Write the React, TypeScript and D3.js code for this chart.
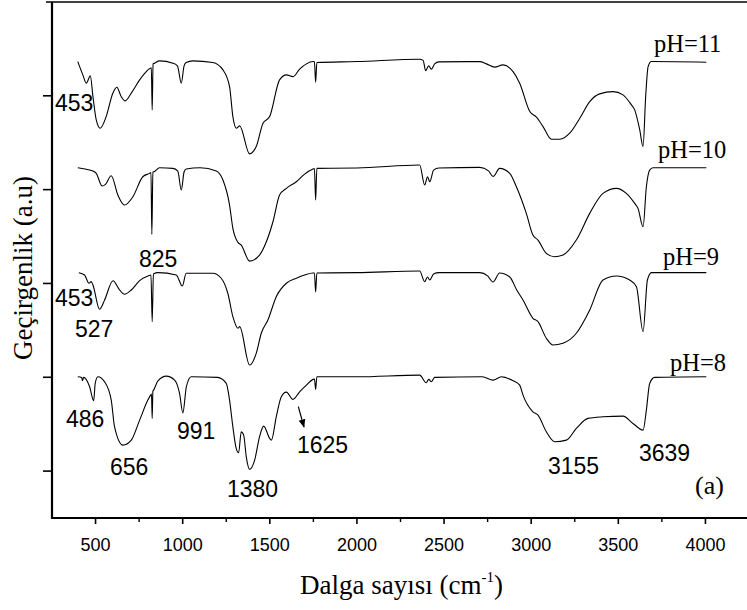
import React from 'react';
import * as d3 from 'd3';

const W = 747;
const H = 610;

const xMajorTicks = [500, 1000, 1500, 2000, 2500, 3000, 3500, 4000];
const xMinorTicks = [750, 1250, 1750, 2250, 2750, 3250, 3750];
const yTicks = [10, 30, 50, 70, 90];
const seriesNames = ['pH=11', 'pH=10', 'pH=9', 'pH=8'];
const offsets = [97.3, 74.6, 52.3, 30.1];

const pH11: [number, number][] = [[398,0],[427,-2.84],[447,-4.61],[470,-3.05],[485,-7.46],[504,-12.43],[527,-14.2],[561,-11.73],[599,-6.74],[622,-5.46],[647,-7.46],[670,-8.38],[705,-6.74],[753,-3.9],[791,-2.13],[814,-1.41],[820,-1.35],[825,-10.3],[830,-0.5],[839,-0.34],[867,0.15],[944,-0.34],[970,-0.9],[992,-4.61],[1008,-0.9],[1020,-0.21],[1058,0.15],[1173,-0.21],[1231,-1.77],[1269,-5.33],[1288,-11.73],[1308,-14.2],[1327,-13.71],[1384,-19.68],[1422,-18.12],[1461,-13.13],[1499,-11.73],[1556,-3.9],[1595,-2.84],[1633,-3.2],[1671,-1.62],[1710,-0.49],[1748,0],[1756,-0.06],[1763,-4.39],[1770,-0.21],[2000,0],[2360,0.51],[2380,0.26],[2394,-1.92],[2412,-0.92],[2427,-1.62],[2446,-0.49],[2470,-0.06],[2705,0],[2743,-0.49],[2791,-1.19],[2838,-0.7],[2896,-2.13],[2934,-4.61],[2992,-10.66],[3030,-11.85],[3068,-13.86],[3116,-16.55],[3164,-16.55],[3221,-15.27],[3279,-12.07],[3336,-8.53],[3393,-6.89],[3470,-6.4],[3527,-7.1],[3575,-9.23],[3594,-10.3],[3623,-14.56],[3642,-18.12],[3657,-7.46],[3671,-1.07],[3690,0],[4005,-0.13]];

const pH10: [number, number][] = [[398,0.06],[440,-0.21],[485,-0.64],[504,-1.13],[538,-3.84],[557,-3.48],[590,-1.64],[628,-5.76],[666,-7.89],[714,-6.12],[771,-1.85],[810,-1.13],[818,-0.96],[823,-14.14],[829,-0.85],[835,-0.79],[867,0.06],[944,-0.06],[972,-0.64],[992,-4.69],[1008,-0.85],[1020,-0.21],[1100,0.06],[1193,-0.64],[1231,-2.56],[1269,-7.89],[1288,-12.86],[1317,-15.84],[1336,-16.42],[1384,-19.83],[1441,-18.55],[1480,-15.71],[1518,-11.45],[1556,-5.76],[1595,-4.33],[1652,-2.92],[1700,-1.28],[1748,-0.21],[1756,-0.1],[1763,-6.82],[1770,-0.06],[2000,0],[2360,0.64],[2389,-3.62],[2405,-1.85],[2418,-2.92],[2440,-0.43],[2470,0],[2705,0.15],[2755,-0.6],[2781,-1.8],[2819,-0.06],[2877,-1.13],[2915,-3.99],[2972,-9.66],[3010,-14.29],[3039,-15.35],[3087,-18.19],[3135,-18.91],[3182,-18.55],[3259,-15.35],[3336,-9.66],[3412,-5.4],[3489,-4.33],[3546,-5.4],[3594,-7.53],[3613,-8.6],[3642,-12.52],[3661,-3.99],[3680,-0.43],[3699,0.06],[4005,0.06]];

const pH9: [number, number][] = [[404,0],[437,-0.49],[462,-2.26],[475,-1.92],[485,-2.62],[523,-7.8],[552,-5.82],[600,-1.71],[638,-3.69],[666,-4.61],[705,-3.69],[753,-1.71],[800,-0.7],[818,-0.49],[825,-10.45],[832,-0.28],[858,0],[963,-0.49],[998,-2.84],[1020,-0.13],[1173,-0.13],[1221,-1.19],[1259,-4.39],[1288,-9.38],[1317,-11.85],[1327,-11.51],[1384,-19.68],[1422,-17.19],[1451,-12.92],[1489,-10.09],[1537,-5.12],[1595,-2.26],[1652,-1.19],[1700,-0.49],[1748,-0.06],[1756,-0.06],[1763,-4.12],[1770,-0.06],[2000,0],[2360,0.36],[2389,-1.92],[2405,-0.92],[2418,-1.56],[2440,-0.28],[2470,0],[2705,0],[2750,-0.7],[2781,-1.98],[2819,-0.06],[2877,-0.92],[2917,-3.69],[2953,-5.82],[3010,-9.72],[3039,-10.45],[3087,-13.99],[3125,-15.42],[3182,-15.05],[3259,-12.92],[3336,-7.95],[3412,-1.56],[3489,-0.7],[3565,-1.56],[3604,-2.99],[3642,-12.58],[3667,-1.56],[3690,0],[4005,0]];

const pH8: [number, number][] = [[398,0],[420,-0.17],[425,-0.85],[431,-0.13],[466,-2.13],[489,-5.12],[498,-1.41],[513,0],[552,-1.07],[590,-4.97],[609,-10.66],[657,-14.56],[705,-13.5],[753,-9.23],[800,-4.97],[816,-3.9],[821,-3.69],[825,-8.87],[829,-3.05],[833,-2.84],[858,-0.85],[906,0.15],[954,-0.7],[982,-3.54],[1001,-7.68],[1021,-2.13],[1049,0],[1200,-0.13],[1250,-1.41],[1269,-4.97],[1288,-10.66],[1307,-15.27],[1321,-16.2],[1336,-11.73],[1350,-12.43],[1365,-17.06],[1384,-19.74],[1413,-17.76],[1441,-12.79],[1465,-10.51],[1499,-13.13],[1509,-13.5],[1537,-8.53],[1566,-4.26],[1595,-3.26],[1633,-4.82],[1671,-3.2],[1710,-1.77],[1748,-0.55],[1756,-0.49],[1763,-2.69],[1770,0],[2000,0],[2360,0.36],[2398,-1.28],[2412,-0.55],[2427,-1.07],[2446,-0.13],[2720,0],[2781,-0.7],[2829,0],[2896,-0.85],[2934,-1.77],[2953,-3.9],[3010,-7.46],[3039,-8.17],[3087,-11.73],[3135,-13.86],[3202,-13.5],[3259,-11.0],[3326,-8.87],[3412,-8.53],[3527,-8.38],[3584,-9.94],[3642,-11.36],[3661,-7.1],[3680,-1.41],[3709,-0.13],[4005,0]];

const series = [pH11, pH10, pH9, pH8];

const peakLabels: { text: string; x: number; y: number }[] = [
  { text: '453', x: 55, y: 111 },
  { text: '825', x: 139, y: 267 },
  { text: '453', x: 55, y: 306 },
  { text: '527', x: 75, y: 337 },
  { text: '486', x: 66, y: 427 },
  { text: '656', x: 110, y: 475 },
  { text: '991', x: 177, y: 439 },
  { text: '1380', x: 227, y: 497 },
  { text: '1625', x: 297, y: 453 },
  { text: '3155', x: 548, y: 474 },
  { text: '3639', x: 639, y: 461 },
];

const seriesLabelPos = [
  { x: 654, y: 52 },
  { x: 658, y: 158 },
  { x: 663, y: 265 },
  { x: 670, y: 371 },
];

export default function App() {
  const left = 52, right = 749, top = 2, bottom = 518;
  const x = d3.scaleLinear().domain([250, 4250]).range([left, right]);
  const y = d3.scaleLinear().domain([0, 110]).range([bottom, top]);

  const serif = '"Liberation Serif", "Times New Roman", serif';
  const sans = '"Liberation Sans", Arial, sans-serif';

  const paths = series.map((s, i) =>
    d3
      .line<[number, number]>()
      .x((d) => x(d[0]))
      .y((d) => y(offsets[i] + d[1]))
      .curve(d3.curveMonotoneX)(s) || ''
  );

  return (
    <svg width={W} height={H} style={{ position: 'absolute', left: 0, top: 0, background: '#fff' }}>
      <defs>
        <marker id="arr" viewBox="0 0 10 10" refX="9" refY="5" markerWidth="7" markerHeight="9" orient="auto">
          <path d="M0,1 L10,5 L0,9 z" fill="#000" />
        </marker>
      </defs>
      <rect x={0} y={0} width={W} height={H} fill="#fff" />

      {paths.map((p, i) => (
        <path key={i} d={p} fill="none" stroke="#000" strokeWidth={1.1} />
      ))}

      <line x1={left - 6} x2={right} y1={top} y2={top} stroke="#000" strokeWidth={1.6} />
      <line x1={left} x2={left} y1={top} y2={bottom + 1} stroke="#000" strokeWidth={2.2} />
      <line x1={left - 1} x2={right} y1={bottom} y2={bottom} stroke="#000" strokeWidth={2.2} />

      {yTicks.map((t) => (
        <line key={t} x1={left - 9} x2={left} y1={y(t)} y2={y(t)} stroke="#000" strokeWidth={1.6} />
      ))}

      {xMajorTicks.map((t) => (
        <g key={t}>
          <line x1={x(t)} x2={x(t)} y1={bottom} y2={bottom + 6} stroke="#000" strokeWidth={1.6} />
          <text x={x(t)} y={551} textAnchor="middle" fontFamily={sans} fontSize={18} fill="#000">
            {t}
          </text>
        </g>
      ))}
      {xMinorTicks.map((t) => (
        <line key={t} x1={x(t)} x2={x(t)} y1={bottom} y2={bottom + 4} stroke="#000" strokeWidth={1.4} />
      ))}

      <text x={300} y={594} fontFamily={serif} fontSize={27} fill="#000">
        Dalga sayısı (cm
        <tspan fontSize={15} dy={-12}>-1</tspan>
        <tspan fontSize={27} dy={12}>)</tspan>
      </text>
      <text transform="translate(32,268) rotate(-90)" textAnchor="middle" fontFamily={serif} fontSize={27} fill="#000">
        Geçirgenlik (a.u)
      </text>

      {seriesNames.map((n, i) => (
        <text key={n} x={seriesLabelPos[i].x} y={seriesLabelPos[i].y} fontFamily={serif} fontSize={24.5} fill="#000">
          {n}
        </text>
      ))}

      {peakLabels.map((l, i) => (
        <text key={i} x={l.x} y={l.y} fontFamily={sans} fontSize={23} fill="#000">
          {l.text}
        </text>
      ))}

      <line x1={298.3} y1={406.7} x2={304} y2={427} stroke="#000" strokeWidth={1.2} markerEnd="url(#arr)" />

      <text x={695} y={494} fontFamily={serif} fontSize={26} fill="#000">
        (a)
      </text>
    </svg>
  );
}
